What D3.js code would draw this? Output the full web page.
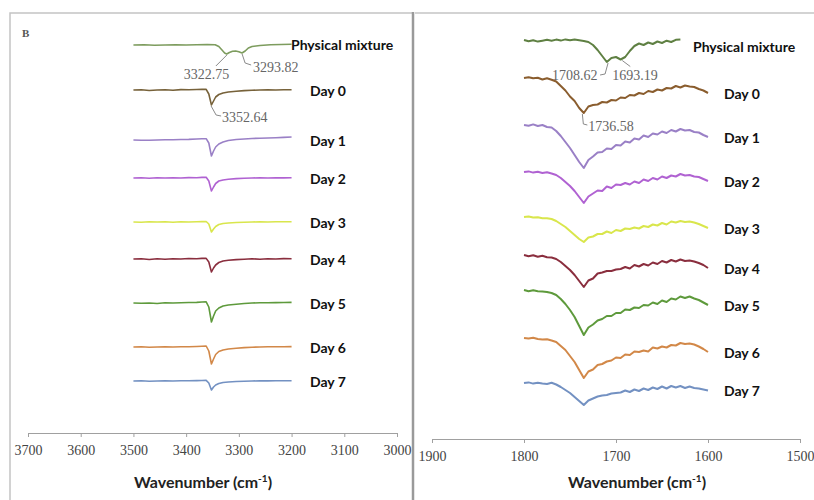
<!DOCTYPE html>
<html lang="en">
<head>
<meta charset="UTF-8">
<script src="https://cdnjs.cloudflare.com/ajax/libs/d3/7.8.4/d3.min.js"></script>
<title>FTIR</title>
<style>
  body { margin: 0; background: #fff; }
</style>
</head>
<body>
<script>
// ---- data ----
const seriesNames = ["Physical mixture", "Day 0", "Day 1", "Day 2", "Day 3", "Day 4", "Day 5", "Day 6", "Day 7"]

// left panel (N-H region), wavenumbers in cm-1
const leftTicks = [3700, 3600, 3500, 3400, 3300, 3200, 3100, 3000]
const leftPmWave = [3500, 3480, 3460, 3440, 3420, 3400, 3380, 3360, 3345, 3338, 3332, 3327, 3323, 3318, 3312, 3306, 3300, 3294, 3288, 3282, 3275, 3260, 3240, 3220, 3200]
const leftPm = [0, 0.2, -0.2, 0, 0.3, 0, 0.2, 0.5, 0.3, -1.5, -5, -8, -9, -7.5, -6.3, -6, -6.8, -8, -6, -3, -1.5, -0.5, 0.3, 0.5, 0.8]
const leftWave = [3500, 3485, 3470, 3455, 3440, 3425, 3410, 3395, 3380, 3370, 3362, 3357, 3352, 3348, 3344, 3338, 3330, 3320, 3305, 3290, 3275, 3260, 3245, 3230, 3215, 3200]
const leftDay0 = [0, 0.3, -0.5, 0, 0.3, -0.2, 0.4, 0.2, 0.5, 0.8, 0.6, -4, -15, -11, -7, -4.5, -3, -2, -1.2, -0.6, -0.3, 0, 0.2, 0, 0.3, 0.3]
const leftDay1 = [0, -0.3, -0.3, 0, 0.2, 0.3, 0.5, 0.6, 1, 1.2, 1.3, -3, -16, -11, -7, -4, -2, -0.5, 0.5, 1, 1.5, 1.8, 2, 2.3, 2.6, 3]
const leftDay2 = [0, 0.2, -0.3, 0.2, 0, 0.3, 0, 0.4, 0.3, 0.6, 0.8, -3, -13, -9, -5.5, -3, -2, -1.2, -0.6, -0.3, 0, 0.2, 0, 0.2, 0.1, 0.2]
const leftDay3 = [0, -0.2, 0.2, 0, 0.2, -0.2, 0.2, 0, 0.3, 0.4, 0.5, -2, -10, -7, -4.5, -2.5, -1.5, -1, -0.5, -0.2, 0, 0.2, 0, 0.2, 0.3, 0.3]
const leftDay4 = [0, 0.3, -0.5, 0.2, -0.3, 0.3, 0, 0.5, 0.2, 0.6, 0.6, -3, -13, -9, -6, -3.5, -2, -1.2, -0.6, -0.2, 0.2, -0.2, 0.3, 0, 0.4, 0.3]
const leftDay5 = [0, -0.3, 0, -0.5, 0.3, 0, 0.3, 0.5, 0.6, 1, 1.2, -4, -19, -13, -8, -5, -3, -2, -1.2, -0.5, 0, 0.2, 0.3, 0.4, 0.5, 0.6]
const leftDay6 = [0, 0.2, -0.3, 0, 0.3, 0, 0.3, 0.2, 0.5, 0.8, 1, -4, -17, -12, -7.5, -4.5, -3, -2, -1.2, -0.6, -0.2, 0, 0.2, 0.3, 0.3, 0.4]
const leftDay7 = [0, 0.2, -0.2, 0, 0.2, 0, 0.3, 0.2, 0.4, 0.5, 0.6, -2, -9, -6, -4, -2.5, -1.5, -1, -0.5, -0.2, 0, 0.2, 0.1, 0.2, 0.3, 0.3]
const leftOffsets = [388, 343, 293, 255, 211, 174, 130, 86, 52]
const leftPeaks = [["3322.75", 3322.75, 0], ["3293.82", 3293.82, 0], ["3352.64", 3352.64, 1]]

// right panel (C=O region)
const rightTicks = [1900, 1800, 1700, 1600, 1500]
const rightPmWave = [1800, 1795, 1790, 1785, 1780, 1775, 1770, 1765, 1760, 1755, 1750, 1745, 1740, 1735, 1730, 1725, 1720, 1715, 1710, 1705, 1700, 1695, 1690, 1685, 1680, 1675, 1670, 1665, 1660, 1655, 1650, 1645, 1640, 1635, 1630]
const rightPm = [1, -0.3, 0.8, -0.6, 0.3, 1.2, 0.3, 1.4, 0.4, 1.6, 0.8, 1.5, 0.8, 0, -1, -4, -9, -15, -21, -17, -16, -18.5, -16, -10, -5, -2.5, -4, -1.5, -3, -0.5, -2, 0.3, -1, 1.2, 1.5]
const rightWave = [1800, 1795, 1790, 1785, 1780, 1775, 1770, 1765, 1760, 1755, 1750, 1745, 1740, 1735, 1730, 1725, 1720, 1715, 1710, 1705, 1700, 1695, 1690, 1685, 1680, 1675, 1670, 1665, 1660, 1655, 1650, 1645, 1640, 1635, 1630, 1625, 1620, 1615, 1610, 1605, 1600]
const rightDay0 = [0, 0.8, -0.3, 0.2, -1.5, -0.3, -1.8, -3.5, -8, -12.5, -18.5, -23, -30, -35, -28.5, -27, -26.5, -24, -24.5, -22, -22.5, -19.5, -20, -17, -17.5, -15, -16, -13, -14, -11.5, -12.5, -10, -10.5, -8, -9.5, -7.5, -8.5, -9, -11, -12.5, -15]
const rightDay1 = [0, -0.8, 0.6, -1, 0, -2, -2.5, -6, -11, -17, -23, -30, -37, -43, -35, -31.5, -27.5, -27, -23.5, -24, -20, -20.5, -16.5, -17.5, -13.5, -14.5, -10.5, -12, -8.5, -9.5, -6.5, -8, -5, -6.5, -4, -5.5, -5, -7, -7.5, -10, -12]
const rightDay2 = [0, 0.6, -0.6, 0.2, -1, -0.3, -1.5, -3, -6, -10, -14, -19, -25, -31, -24.5, -21.5, -18.5, -19, -14.5, -16, -12.5, -13, -11, -12.5, -9.5, -11, -7.5, -9, -6, -7.5, -4.5, -6, -3.5, -4.5, -2, -3.5, -3, -4.5, -5, -7, -9]
const rightDay3 = [0, 0.4, -0.6, -0.2, -1.2, -1.2, -2, -4, -7, -10, -14, -18, -22, -25, -20.5, -19.5, -17, -17, -14.5, -16, -13, -14, -11.5, -12, -10.5, -11.5, -9, -10, -7.5, -8.5, -6, -7.5, -4.5, -5.5, -4, -5, -4.5, -5.5, -7, -9, -11]
const rightDay4 = [0, -1.2, -0.3, -1.7, -0.8, -2.2, -2.5, -4, -7, -11, -15, -20, -26, -32, -25.5, -23.5, -18.5, -17.5, -16, -16, -14.5, -14, -12, -13.5, -10, -11.5, -9, -10.5, -7.5, -9, -6, -7.5, -5, -6.5, -4.5, -6, -5.5, -6.5, -8, -10, -13]
const rightDay5 = [0, -1.2, -0.3, -1.2, -1.5, -2, -3, -5, -9, -14, -20, -27, -36, -45, -37.5, -34.5, -30.5, -29, -26, -26, -23, -23, -19.5, -20, -17.5, -18, -15, -15.5, -12.5, -14, -10.5, -12, -8.5, -9.5, -6.5, -8, -6.5, -8.5, -10, -12.5, -15]
const rightDay6 = [0, -0.6, 0.2, -1, -1.5, -1.2, -2.5, -4, -8, -12, -18, -24, -32, -40, -33.5, -31.5, -27, -26, -23.5, -22.5, -19.5, -20, -16.5, -17, -13.5, -14, -12.5, -13.5, -9.5, -10.5, -8.5, -9.5, -7, -7.5, -5, -6, -5.5, -6.5, -8.5, -11, -14]
const rightDay7 = [0, 0.6, -0.6, 0.2, -0.6, -1, 0.2, -1.5, -4, -7, -10, -14, -18, -22, -17.5, -15.5, -13.5, -12.5, -12, -10.5, -10, -9.5, -7.5, -9, -6.5, -8, -5.5, -7, -4.5, -6, -3.5, -5.5, -3, -4.5, -3, -5, -3.5, -5, -5.5, -6.5, -7.5]
const rightOffsets = [398, 361, 314, 267, 222, 184, 149, 101, 56]
const rightPeaks = [["1708.62", 1708.62, 0], ["1693.19", 1693.19, 0], ["1736.58", 1736.58, 1]]

const leftColors = ["#7d9c5e", "#77623a", "#9a80c6", "#b062d2", "#d9e64c", "#8a2e3e", "#5e9a3c", "#d28848", "#7391c2"]
const rightColors = ["#5f8043", "#8a5d2e", "#9a80c6", "#b062d2", "#d9e64c", "#8a2e3e", "#5e9a3c", "#d28848", "#7391c2"]

// ---- chart ----
let svg = d3.select("body").append("svg")
  .attr("width", 814)
  .attr("height", 500)
  .style("font-family", "Lato, 'Open Sans', sans-serif")

// frames
svg.append("path").attr("d", "M10,500 V13 H412").attr("fill", "none").attr("stroke", "#c4c4c4").attr("stroke-width", 1.5)
svg.append("path").attr("d", "M415,13 H814").attr("fill", "none").attr("stroke", "#c4c4c4").attr("stroke-width", 1.5)
svg.append("line").attr("x1", 413).attr("x2", 413).attr("y1", 12).attr("y2", 500).attr("stroke", "#9a9a9a").attr("stroke-width", 2.5)

svg.append("text").attr("x", 22).attr("y", 37).text("B")
  .style("font-family", "'Liberation Serif', serif").style("font-weight", "bold").style("font-size", "11px").attr("fill", "#555")

function panel(cfg) {
  let x = d3.scaleLinear().domain(cfg.domain).range(cfg.xRange)
  let y = d3.scaleLinear().domain([0, 400]).range([cfg.axisY, cfg.axisY - 400])

  let axis = svg.append("g")
    .attr("transform", `translate(0, ${cfg.axisY})`)
    .call(d3.axisBottom(x).tickValues(cfg.ticks).tickSize(4).tickSizeOuter(0).tickFormat(d3.format("d")))
    .attr("font-family", "'Liberation Serif', serif")
    .attr("font-size", 14)
  axis.select(".domain").attr("stroke", "#a0a0a0")
  axis.selectAll(".tick line").attr("stroke", "#a0a0a0")
  axis.selectAll(".tick text")
    .attr("dy", "1.1em")
    .style("font-family", "'Liberation Serif', serif").style("font-size", "14px").attr("fill", "#444")

  let title = svg.append("text")
    .attr("x", cfg.titleX).attr("y", 488)
    .attr("text-anchor", "middle")
    .style("font-weight", "bold").style("font-size", "16px").attr("fill", "#222")
  title.append("tspan").text("Wavenumber (cm")
  title.append("tspan").text("-1").attr("dy", -6).style("font-size", "10px")
  title.append("tspan").text(")").attr("dy", 6)

  cfg.series.forEach((s, i) => {
    let line = d3.line()
      .x((d, j) => x(s.wave[j]))
      .y(d => y(cfg.offsets[i] + d))
    svg.append("path")
      .datum(s.values)
      .attr("d", line)
      .attr("fill", "none")
      .attr("stroke", cfg.colors[i])
      .attr("stroke-width", cfg.lineWidth)
      .attr("stroke-linejoin", "round")

    let last = s.values[s.values.length - 1]
    let ly = i == 0 ? y(cfg.offsets[i]) + cfg.pmDy : y(cfg.offsets[i] + (cfg.labelAtEnd ? last : 0)) + 1
    svg.append("text")
      .attr("x", i == 0 ? cfg.pmLabelX : cfg.labelX)
      .attr("y", ly)
      .attr("dy", "0.35em")
      .text(seriesNames[i])
      .style("font-weight", "bold").style("font-size", "14px").attr("fill", "#111")
  })

  // peak annotations
  cfg.peaks.forEach((p, k) => {
    let s = cfg.series[p[2]]
    let idx = d3.minIndex(s.wave, w => Math.abs(w - p[1]))
    let px = x(p[1]), py = y(cfg.offsets[p[2]] + s.values[idx])
    let a = cfg.ann[k]
    svg.append("path")
      .attr("d", `M${px},${py + 1}` + a.path.map(q => ` L${px + q[0]},${py + q[1]}`).join(""))
      .attr("fill", "none").attr("stroke", "#8a8a8a").attr("stroke-width", 1)
    svg.append("text")
      .attr("x", px + a.tx).attr("y", py + a.ty)
      .text(p[0])
      .style("font-family", "'Liberation Serif', serif").style("font-size", "14px").attr("fill", "#666")
  })
}

panel({
  domain: [3700, 3000], xRange: [28, 397], axisY: 433, ticks: leftTicks, titleX: 203,
  offsets: leftOffsets, colors: leftColors, lineWidth: 1.6,
  labelX: 310, pmLabelX: 291, pmDy: 0, labelAtEnd: false,
  series: [
    {wave: leftPmWave, values: leftPm},
    {wave: leftWave, values: leftDay0}, {wave: leftWave, values: leftDay1}, {wave: leftWave, values: leftDay2},
    {wave: leftWave, values: leftDay3}, {wave: leftWave, values: leftDay4}, {wave: leftWave, values: leftDay5},
    {wave: leftWave, values: leftDay6}, {wave: leftWave, values: leftDay7}
  ],
  peaks: leftPeaks,
  ann: [
    {path: [[-11, 12]], tx: -43, ty: 25},
    {path: [[3, 10], [9, 12]], tx: 11, ty: 19},
    {path: [[5, 10], [10, 11]], tx: 11, ty: 17}
  ]
})

panel({
  domain: [1900, 1500], xRange: [432, 800], axisY: 439, ticks: rightTicks, titleX: 637,
  offsets: rightOffsets, colors: rightColors, lineWidth: 2,
  labelX: 724, pmLabelX: 693, pmDy: 6, labelAtEnd: true,
  series: [
    {wave: rightPmWave, values: rightPm},
    {wave: rightWave, values: rightDay0}, {wave: rightWave, values: rightDay1}, {wave: rightWave, values: rightDay2},
    {wave: rightWave, values: rightDay3}, {wave: rightWave, values: rightDay4}, {wave: rightWave, values: rightDay5},
    {wave: rightWave, values: rightDay6}, {wave: rightWave, values: rightDay7}
  ],
  peaks: rightPeaks,
  ann: [
    {path: [[-3, 12], [-8, 13]], tx: -56, ty: 18},
    {path: [[8, 7]], tx: -10, ty: 20},
    {path: [[1, 11], [5, 12]], tx: 6, ty: 18}
  ]
})
</script>
</body>
</html>
